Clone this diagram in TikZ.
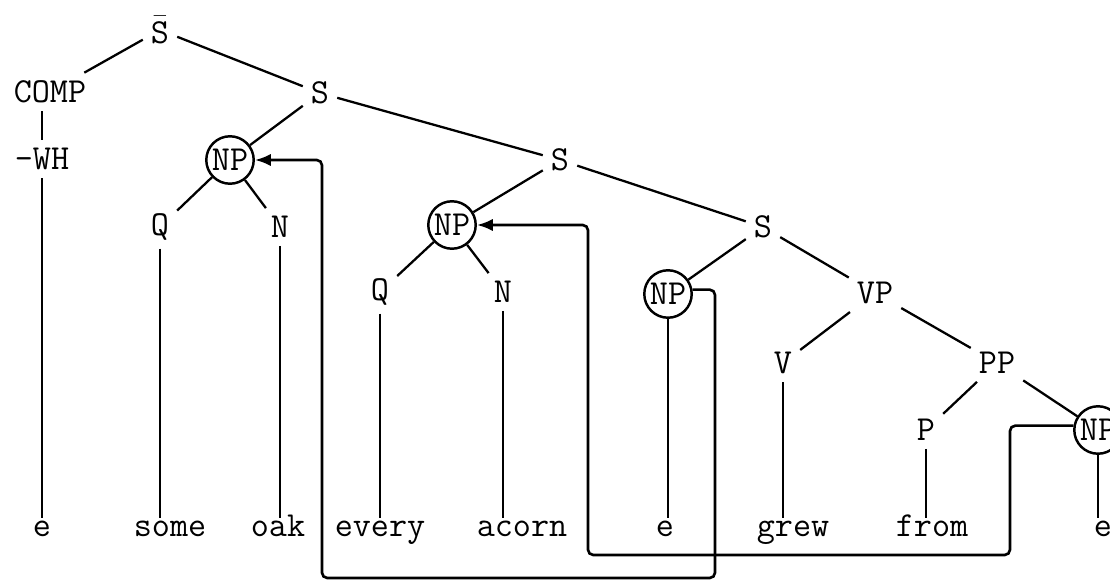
\documentclass[tikz,border=0pt]{standalone}
\usepackage{fontspec}
\usetikzlibrary{arrows.meta}

\tikzset{
    lab/.style = {inner sep = 4pt},
    trace/.style = {circle, draw, line width = 1.4pt, inner sep = 0pt, minimum size = 27pt},
    leaf/.style = {inner sep = 5pt, text height = 1.1ex, text depth = 0pt},
    move/.style = {line width = 1.5pt, rounded corners = 3pt, -{Latex[length = 9pt, width = 7pt]}}
}

\begin{document}
\begin{tikzpicture}[x = 0.02cm, y = -0.02cm, line width = 1.3pt,
        every node/.style = {font = \ttfamily\fontsize{20}{22}\selectfont}]
    \useasboundingbox (0,0) rectangle (1110,581);
    \clip (0,0) rectangle (1110,581);
    % tree labels
    \node[lab] (sbar) at (160,30) {$\bar{\hbox{S}}$};
    \node[lab] (comp) at (50,92) {COMP};
    \node[lab] (s1) at (320,93) {S};
    \node[lab] (wh) at (42,159) {-WH};
    \node[trace] (np1) at (230,160) {NP};
    \node[lab] (s2) at (560,160) {S};
    \node[lab] (q1) at (160,227) {Q};
    \node[lab] (n1) at (280,227) {N};
    \node[trace] (np2) at (452,225) {NP};
    \node[lab] (s3) at (763,227) {S};
    \node[lab] (q2) at (380,292) {Q};
    \node[lab] (n2) at (503,292) {N};
    \node[trace] (np3) at (668,294) {NP};
    \node[lab] (vp) at (875,293) {VP};
    \node[lab] (v) at (783,363) {V};
    \node[lab] (pp) at (997,363) {PP};
    \node[lab] (p) at (926,430) {P};
    \node[trace] (np4) at (1098,430) {NP};
    % words
    \node[leaf] (e1) at (42,532) {e};
    \node[leaf] (some) at (170,532) {some};
    \node[leaf] (oak) at (278,532) {oak};
    \node[leaf] (every) at (380,532) {every};
    \node[leaf] (acorn) at (522,532) {acorn};
    \node[leaf] (e2) at (665,532) {e};
    \node[leaf] (grew) at (793,532) {grew};
    \node[leaf] (from) at (932,532) {from};
    \node[leaf] (e3) at (1103,532) {e};
    % branches
    \draw (sbar) -- (comp);
    \draw (sbar) -- (s1);
    \draw (wh |- comp.south) -- (wh);
    \draw (s1) -- (np1);
    \draw (s1) -- (s2);
    \draw (np1) -- (q1);
    \draw (np1) -- (n1);
    \draw (s2) -- (np2);
    \draw (s2) -- (s3);
    \draw (np2) -- (q2);
    \draw (np2) -- (n2);
    \draw (s3) -- (np3);
    \draw (s3) -- (vp);
    \draw (vp) -- (v);
    \draw (vp) -- (pp);
    \draw (pp) -- (p);
    \draw (pp) -- (np4);
    % down to the words
    \draw (wh) -- (wh |- e1.north);
    \draw (q1) -- (q1 |- some.north);
    \draw (n1) -- (n1 |- oak.north);
    \draw (q2) -- (q2 |- every.north);
    \draw (n2) -- (n2 |- acorn.north);
    \draw (np3) -- (np3 |- e2.north);
    \draw (v) -- (v |- grew.north);
    \draw (p) -- (p |- from.north);
    \draw (np4) -- (np4 |- e3.north);
    % movement
    \draw[move] (np3.10) -| (715,578) -| (322,160) -- (np1.east);
    \draw[move] (np4.170) -| (1010,555) -| (588,225) -- (np2.east);
\end{tikzpicture}
\end{document}
